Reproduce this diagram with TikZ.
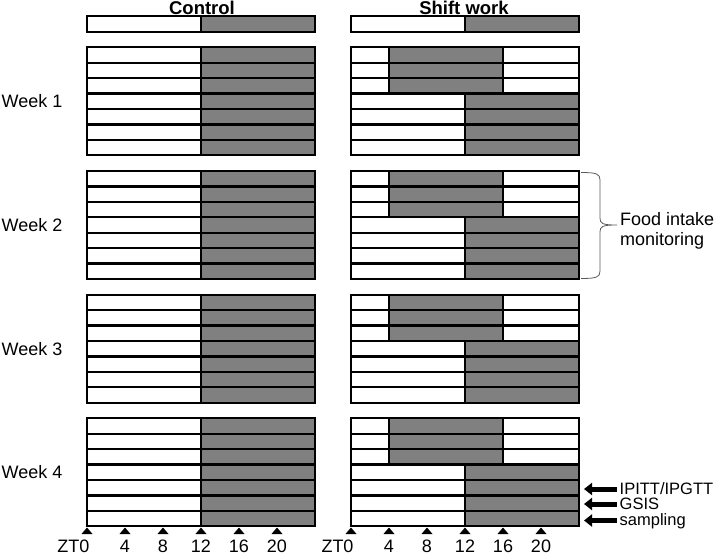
\documentclass[tikz,border=0pt]{standalone}
\usepackage{fontspec}
\setmainfont{Liberation Sans}
\usetikzlibrary{arrows.meta}
\definecolor{midgray}{RGB}{128,128,128}
\definecolor{bracegray}{RGB}{90,90,90}
\begin{document}
\begin{tikzpicture}[x=1pt,y=-1pt,
  cell/.style={draw=black,line width=2.3pt},
  lightc/.style={cell,fill=white},
  darkc/.style={cell,fill=midgray},
  lbl/.style={font=\fontsize{18}{19}\selectfont,inner sep=0pt},
  hdr/.style={font=\fontsize{18.5}{20}\selectfont\bfseries,inner sep=0pt,anchor=base},
  tick/.style={fill=black},
  sidelbl/.style={inner sep=0pt,font=\fontsize{16.5}{17}\selectfont,anchor=west,text height=11pt,text depth=3pt},
  bigarrow/.style={line width=5pt,-{Triangle[length=8pt,width=12pt]}}]
\useasboundingbox (0,0) rectangle (718,555);
% headers
\node[hdr] (hc) at (202,14.5) {Control};
\node[hdr] (hs) at (464,14.5) {Shift work};
% top bars
\draw[lightc] (87,16) rectangle (201,32);
\draw[darkc] (201,16) rectangle (315,32);
\draw[lightc] (351,16) rectangle (465,32);
\draw[darkc] (465,16) rectangle (579,32);
% weeks
\foreach \w/\t in {1/47.3,2/171,3/294.7,4/418.3}{
  \foreach \r in {0,...,6}{
    \pgfmathsetmacro{\ya}{\t+\r*15.43}
    \pgfmathsetmacro{\yb}{\t+(\r+1)*15.43}
    \draw[lightc] (87,\ya) rectangle (201,\yb);
    \draw[darkc] (201,\ya) rectangle (315,\yb);
    \ifnum\r<3
      \draw[lightc] (351,\ya) rectangle (389,\yb);
      \draw[darkc] (389,\ya) rectangle (503,\yb);
      \draw[lightc] (503,\ya) rectangle (579,\yb);
    \else
      \draw[lightc] (351,\ya) rectangle (465,\yb);
      \draw[darkc] (465,\ya) rectangle (579,\yb);
    \fi
  }
  \pgfmathsetmacro{\yc}{\t+54}
  \node[lbl,anchor=west] (week\w) at (1.5,\yc) {Week \w};
}
% ticks and numbers
\foreach \x in {0,4,8,12,16,20}{
  \pgfmathsetmacro{\xc}{87+\x*9.5}
  \pgfmathsetmacro{\xs}{351+\x*9.5}
  \fill[tick] (\xc,527.5) -- (\xc-5.5,534) -- (\xc+5.5,534) -- cycle;
  \fill[tick] (\xs,527.5) -- (\xs-5.5,534) -- (\xs+5.5,534) -- cycle;
}
\foreach \x/\n in {4/b,8/c,12/d,16/e,20/f}{
  \pgfmathsetmacro{\xc}{87+\x*9.5}
  \pgfmathsetmacro{\xs}{351+\x*9.5}
  \node[lbl,anchor=base] (nc\n) at (\xc,552) {\x};
  \node[lbl,anchor=base] (ns\n) at (\xs,552) {\x};
}
\node[lbl,anchor=base] (nca) at (73.5,552) {ZT0};
\node[lbl,anchor=base] (nsa) at (337.5,552) {ZT0};
% brace
\draw[bracegray,line width=0.8pt] (581,172.5) .. controls (597,172.5) and (600,174) .. (600,180)
  -- (600,218) .. controls (600,223.5) and (602,225) .. (617,225)
  (617,225) .. controls (602,225) and (600,226.5) .. (600,232)
  -- (600,271) .. controls (600,277) and (597,278.5) .. (581,278.5);
\node[lbl,anchor=west,align=left,font=\fontsize{18}{19.5}\selectfont] (food) at (620,231) {Food intake\\monitoring};
% arrows
\node[sidelbl] (ipitt) at (619.5,490.5) {IPITT/IPGTT};
\node[sidelbl] (gsis) at (619.5,505.8) {GSIS};
\node[sidelbl] (samp) at (619.5,521.5) {sampling};
\coordinate (ea) at (584,489);
\coordinate (eb) at (584,504);
\coordinate (ec) at (584,520.5);
\draw[bigarrow] (ipitt.west |- ea) ++(-3,0) -- (ea);
\draw[bigarrow] (gsis.west |- eb) ++(-3,0) -- (eb);
\draw[bigarrow] (samp.west |- ec) ++(-3,0) -- (ec);
\end{tikzpicture}
\end{document}
